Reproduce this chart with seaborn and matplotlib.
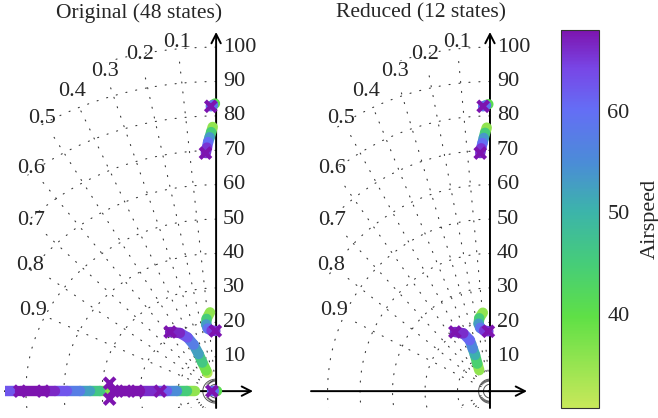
import numpy as np
import matplotlib
matplotlib.use("Agg")
import matplotlib.pyplot as plt
from matplotlib.collections import LineCollection
from matplotlib.colors import LinearSegmentedColormap, Normalize
from matplotlib.cm import ScalarMappable
from matplotlib.patches import Polygon
import seaborn as sns

# ---------------------------------------------------------------- data
# Pole traces over airspeed: real part, imaginary part, airspeed.
# Original model (48 states)
orig_a_re = [-0.3, -0.8, -1.4]
orig_a_im = [83.6, 83.2, 82.8]
orig_a_v = [31, 50, 68]

orig_b_re = [-0.9, -1.3, -1.7, -2.1, -2.4, -2.7]
orig_b_im = [76.8, 75.3, 73.8, 72.4, 70.8, 69.2]
orig_b_v = [31, 40, 50, 57, 63, 68]

orig_c_re = [-1.6, -2.5, -2.6, -2.2, -1.2, -0.2]
orig_c_im = [22.9, 21.0, 19.4, 18.2, 17.6, 17.5]
orig_c_v = [31, 40, 50, 56, 62, 68]

orig_d_re = [-2.3, -2.6, -3.6, -4.6, -5.9, -7.5, -9.5, -12.1]
orig_d_im = [5.3, 6.0, 8.3, 10.8, 13.5, 15.6, 16.9, 17.2]
orig_d_v = [31, 34, 42, 50, 55, 60, 65, 68]

orig_e_re = [0.2, -0.5, -1.1]
orig_e_im = [0.0, 0.0, 0.0]
orig_e_v = [31, 50, 68]

orig_f_re = [-27.8, -30.5, -33.2, -35.8, -39.2, -42.4, -45.0, -51.6]
orig_f_im = [0, 0, 0, 0, 0, 0, 0, 0]
orig_f_v = [31, 42, 50, 55, 60, 65, 68, 68]

orig_g_re = [-55.5, -52.0]
orig_g_im = [0, 0]
orig_g_v = [61, 64]

orig_h_re = [-5.5, -7.6, -10.3, -12.9, -16.0, -20.0, -23.9, -26.0]
orig_h_im = [0, 0, 0, 0, 0, 0, 0, 0]
orig_h_v = [31, 40, 50, 60, 64, 68, 68, 68]

# pole markers
orig_x_re = [-1.4, -2.8, -12.1, -0.2, -1.1, -51.6, -45.5, -28.0, -28.0, -27.0, -23.9, -20.8, -14.7]
orig_x_im = [82.8, 69.2, 17.2, 17.5, 0.0, 0.0, 0.0, 2.3, -2.3, 0.0, 0.0, 0.0, 0.0]
orig_x_v = [68, 68, 68, 68, 68, 68, 68, 68, 68, 68, 68, 68, 68]

# Reduced model (12 states)
red_a_re = [-0.5, -1.2, -2.1]
red_a_im = [83.4, 83.1, 82.8]
red_a_v = [31, 50, 68]

red_b_re = [-1.0, -1.5, -1.9, -2.3, -2.7, -3.0]
red_b_im = [76.6, 75.1, 73.6, 72.1, 70.6, 69.2]
red_b_v = [31, 40, 50, 57, 63, 68]

red_c_re = [-2.2, -3.3, -3.5, -3.0, -1.8, -0.5]
red_c_im = [22.8, 21.2, 19.6, 18.4, 17.6, 17.4]
red_c_v = [31, 40, 50, 56, 62, 68]

red_d_re = [-3.3, -3.9, -4.6, -5.3, -6.2, -8.2, -10.8]
red_d_im = [6.1, 8.0, 10.5, 12.4, 14.8, 16.8, 17.2]
red_d_v = [31, 40, 48, 53, 58, 64, 68]

red_x_re = [-2.1, -3.0, -10.8, -0.5]
red_x_im = [82.8, 69.2, 17.2, 17.4]
red_x_v = [68, 68, 68, 68]

# grid and labels
zeta_values = [0.1, 0.2, 0.3, 0.4, 0.5, 0.6, 0.7, 0.8, 0.9]
wn_values = [10, 20, 30, 40, 50, 60, 70, 80, 90, 100]
wn_small = [2, 3.5]
imag_ticks = [10, 20, 30, 40, 50, 60, 70, 80, 90, 100]
cbar_ticks = [40, 50, 60]
titles = ["Original (48 states)", "Reduced (12 states)"]
cbar_label = "Airspeed"

# label radius along each damping line (also the outer edge of the grid)
zeta_label_r = [102, 100, 97.5, 95, 91.5, 81, 69.5, 61, 53.5]

# ---------------------------------------------------------------- style
sns.set_theme(style="white")
plt.rcParams["font.family"] = ["Liberation Serif", "DejaVu Serif"]

cmap = LinearSegmentedColormap.from_list(
    "airspeed",
    [(0.00, "#c8e85a"), (0.24, "#5fe046"), (0.38, "#46cd78"),
     (0.52, "#3cb4aa"), (0.65, "#4b8cd7"), (0.79, "#646ef5"),
     (0.90, "#7846e6"), (1.00, "#7d14af")])
norm = Normalize(vmin=30.7, vmax=68.0)

W, H = 658, 418
fig = plt.figure(figsize=(W / 100, H / 100), dpi=100)


def px_axes(x0, x1, y0, y1):
    return fig.add_axes([x0 / W, 1 - y1 / H, (x1 - x0) / W, (y1 - y0) / H])


FS = 16
GRID = dict(color="#3a3a3a", lw=0.8, ls=(0, (1, 8)), dash_capstyle="round", zorder=1)


def draw_panel(ax, xlim, branches, marks):
    ymin, ymax = -4.9, 104.4
    ax.set_xlim(*xlim)
    ax.set_ylim(ymin, ymax)
    ax.axis("off")

    # region covered by the s-plane grid: bounded by the damping labels
    edge = [(-z * r * 1.02, np.sqrt(1 - z ** 2) * r * 1.02)
            for z, r in zip(zeta_values, zeta_label_r)]
    x9 = edge[-1][0]
    region = [(20, 130), (edge[0][0], 130)] + edge + [(x9 - 2.5, 10), (x9 - 2.5, -20), (20, -20)]
    clip = Polygon(region, closed=True, transform=ax.transData, fill=False, visible=False)
    ax.add_patch(clip)

    # damping-ratio rays and natural-frequency arcs
    for z, rl in zip(zeta_values, zeta_label_r):
        s = np.sqrt(1 - z ** 2)
        rr = rl - 5
        ax.plot([0, -z * rr], [0, s * rr], **GRID)
        ax.plot([0, -z * rr], [0, -s * rr], **GRID)
        ax.text(-z * rl, s * rl, f"{z:.1f}", ha="center", va="center", fontsize=FS, zorder=2)
    th = np.linspace(np.pi / 2, 3 * np.pi / 2, 400)
    for w in wn_values:
        ln, = ax.plot(w * np.cos(th), w * np.sin(th), **GRID)
        ln.set_clip_path(clip)
    for w in wn_small:
        ax.plot(w * np.cos(th), w * np.sin(th), color="#555555", lw=0.7, zorder=1)

    # axes with arrows
    arrow = dict(arrowstyle="->,head_length=0.55,head_width=0.28", lw=1.4,
                 color="black", shrinkA=0, shrinkB=0)
    ax.annotate("", xy=(xlim[1], 0), xytext=(xlim[0], 0), arrowprops=arrow,
                annotation_clip=False, zorder=2)
    ax.annotate("", xy=(0, ymax), xytext=(0, ymin), arrowprops=arrow,
                annotation_clip=False, zorder=2)
    for t in imag_ticks:
        ax.annotate(str(t), xy=(0, t), xytext=(5, 0), textcoords="offset points",
                    ha="left", va="center", fontsize=FS)

    # traces coloured by airspeed
    for re, im, v in branches:
        pts = np.column_stack([re, im])
        segs = np.stack([pts[:-1], pts[1:]], axis=1)
        vmid = [(a + b) / 2 for a, b in zip(v[:-1], v[1:])]
        lc = LineCollection(segs, colors=cmap(norm(vmid)), linewidths=7.5,
                            capstyle="round", joinstyle="round", zorder=3)
        ax.add_collection(lc)

    mre, mim, mv = marks
    sns.scatterplot(x=mre, y=mim, hue=mv, palette=cmap, hue_norm=norm,
                    marker="x", s=60, linewidth=3.0, legend=False, ax=ax, zorder=4)
    ax.set_xlim(*xlim)
    ax.set_ylim(ymin, ymax)
    ax.axis("off")


ax1 = px_axes(5, 253, 32, 408)
draw_panel(
    ax1, (-55.5, 9.7),
    [(orig_g_re, orig_g_im, orig_g_v), (orig_f_re, orig_f_im, orig_f_v),
     (orig_h_re, orig_h_im, orig_h_v), (orig_e_re, orig_e_im, orig_e_v),
     (orig_d_re, orig_d_im, orig_d_v), (orig_c_re, orig_c_im, orig_c_v),
     (orig_b_re, orig_b_im, orig_b_v), (orig_a_re, orig_a_im, orig_a_v)],
    (orig_x_re, orig_x_im, orig_x_v))

ax2 = px_axes(311, 527, 32, 408)
draw_panel(
    ax2, (-55.1, 11.4),
    [(red_d_re, red_d_im, red_d_v), (red_c_re, red_c_im, red_c_v),
     (red_b_re, red_b_im, red_b_v), (red_a_re, red_a_im, red_a_v)],
    (red_x_re, red_x_im, red_x_v))

fig.text(139 / W, 1 - 13 / H, titles[0], ha="center", va="center", fontsize=15.5)
fig.text(421 / W, 1 - 13 / H, titles[1], ha="center", va="center", fontsize=15.5)

# colour bar
cax = px_axes(561, 599, 30, 408)
cb = fig.colorbar(ScalarMappable(norm=norm, cmap=cmap), cax=cax)
cb.set_ticks(cbar_ticks)
cax.tick_params(axis="y", which="both", direction="in", length=10, width=1.0,
                color="#8a8a8a", left=True, right=True, labelsize=FS, pad=6)
cb.outline.set_edgecolor("#333333")
cb.outline.set_linewidth(0.8)
fig.text(650 / W, 1 - 219 / H, cbar_label, rotation=90, ha="center", va="center",
         fontsize=FS)

fig.savefig("out.png", dpi=100)
